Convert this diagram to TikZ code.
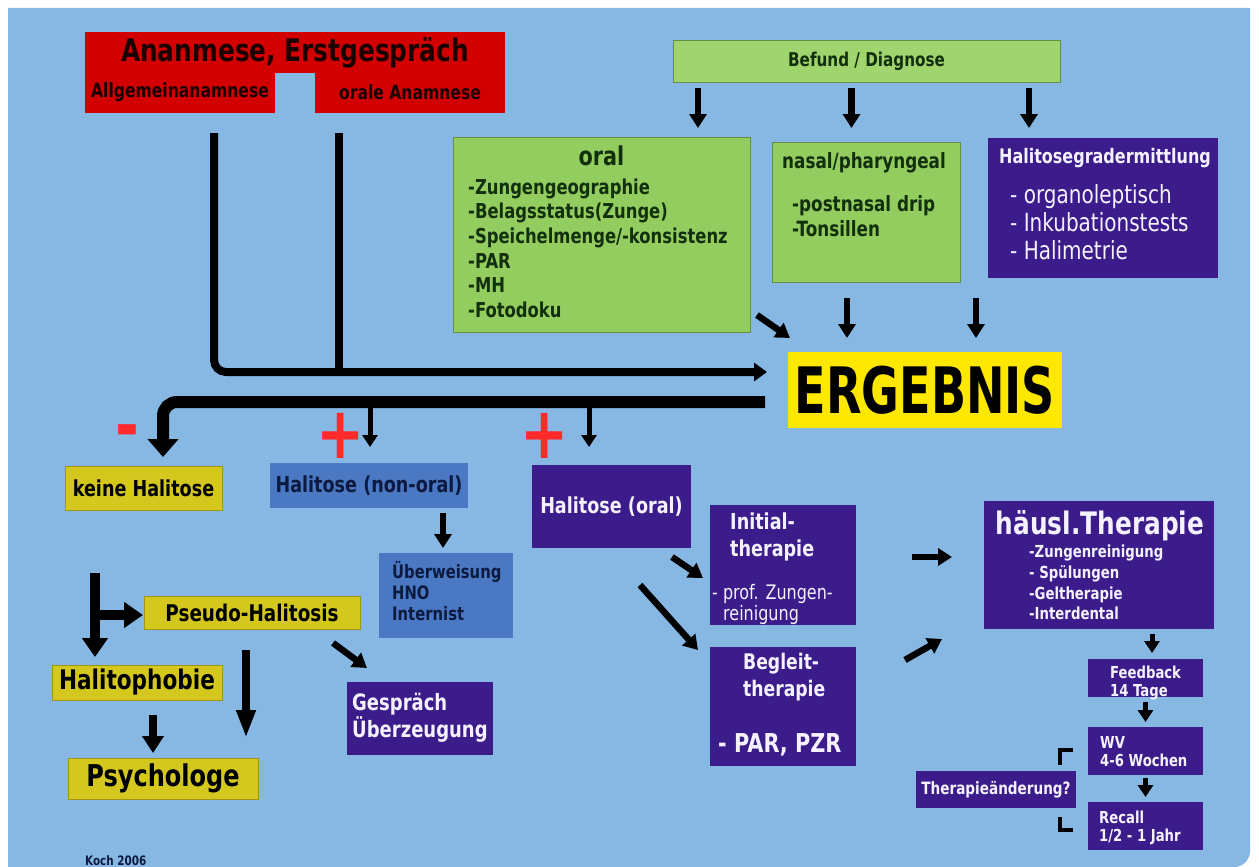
\documentclass[tikz,border=0pt]{standalone}
\usepackage{fontspec}
\setmainfont{DejaVu Sans}[FakeStretch=0.8]
\usetikzlibrary{arrows.meta,calc}
\definecolor{bg}{HTML}{87B8E3}
\definecolor{rd}{HTML}{D20000}
\definecolor{rdtxt}{HTML}{1A0000}
\definecolor{gr}{HTML}{93CC5F}
\definecolor{grl}{HTML}{A0D46E}
\definecolor{grtxt}{HTML}{12300E}
\definecolor{pu}{HTML}{3B1C8A}
\definecolor{wt}{HTML}{F5F2FF}
\definecolor{ye}{HTML}{D4C81E}
\definecolor{erg}{HTML}{FFE800}
\definecolor{mb}{HTML}{4B78C3}
\definecolor{bltxt}{HTML}{0B1A3E}
\definecolor{sig}{HTML}{FF2A2A}

\begin{document}
\begin{tikzpicture}[
        x=1pt, y=-1pt,
        box/.style={rectangle, inner sep=0pt, outer sep=0pt},
        redbox/.style={box, fill=rd, text=rdtxt},
        grbox/.style={box, fill=gr, draw=gr!70!black, line width=0.8pt},
        pubox/.style={box, fill=pu, text=wt},
        yebox/.style={box, fill=ye, draw=ye!75!black, line width=0.6pt, text=black},
        blbox/.style={box, fill=mb, text=bltxt},
        arr/.style={line width=5pt, -{Triangle[width=15pt,length=12pt]}},
        marr/.style={line width=6.5pt, -{Triangle[width=17pt,length=14pt]}},
        barr/.style={line width=10pt, -{Triangle[width=25pt,length=19pt]}},
        sign/.style={text=sig, font=\fontsize{72}{72}\selectfont\bfseries, inner sep=0pt},
    ]
\useasboundingbox (0,0) rectangle (1259,867);
\fill[white] (0,0) rectangle (1259,867);
\fill[bg] (8,8) -- (1250,8) -- (1250,851) arc[start angle=0, end angle=90, radius=16] -- (8,867) -- cycle;

% Anamnese
\node[redbox, minimum width=420pt, minimum height=41pt, font=\fontsize{31}{31}\selectfont\bfseries] (anam) at (295,52.5) {Ananmese, Erstgespräch};
\node[redbox, minimum width=190pt, minimum height=41pt, font=\fontsize{19.5}{19.5}\selectfont\bfseries] (allg) at (180,92.5) {Allgemeinanamnese};
\node[redbox, minimum width=190pt, minimum height=41pt, font=\fontsize{19.5}{19.5}\selectfont\bfseries] (oralan) at (410,92.5) {orale Anamnese};

% Befund
\node[box, fill=grl, draw=gr!70!black, line width=0.8pt, minimum width=387pt, minimum height=42pt, text=grtxt, font=\fontsize{19}{19}\selectfont\bfseries] (befund) at (866.5,61) {Befund / Diagnose};

\node[grbox, minimum width=297pt, minimum height=195pt] (oral) at (601.5,234.5) {};
\node[anchor=base, text=grtxt, font=\fontsize{26}{26}\selectfont\bfseries] (oralt) at ($(oral.north)+(0,28)$) {oral};
\node[anchor=north west, align=left, inner sep=0pt, text=grtxt, font=\fontsize{20.5}{24.6}\selectfont\bfseries] (oralx) at ($(oral.north west)+(15,41.5)$)
    {-Zungengeographie\\-Belagsstatus(Zunge)\\-Speichelmenge/-konsistenz\\-PAR\\-MH\\-Fotodoku};

\node[grbox, minimum width=188pt, minimum height=140pt] (nasal) at (866,212) {};
\node[anchor=base, text=grtxt, font=\fontsize{21}{21}\selectfont\bfseries] (nasalt) at ($(nasal.north)+(-2,26)$) {nasal/pharyngeal};
\node[anchor=north west, align=left, inner sep=0pt, text=grtxt, font=\fontsize{21}{25}\selectfont\bfseries] (nasalx) at ($(nasal.north west)+(20,53)$)
    {-postnasal drip\\-Tonsillen};

\node[pubox, minimum width=230pt, minimum height=140pt] (halgrad) at (1103,208) {};
\node[anchor=base, text=wt, font=\fontsize{20}{20}\selectfont\bfseries] (halgradt) at ($(halgrad.north)+(2,25)$) {Halitosegradermittlung};
\node[anchor=north west, align=left, inner sep=0pt, text=wt, font=\fontsize{25}{28}\selectfont] (halgradx) at ($(halgrad.north west)+(22,46)$)
    {- organoleptisch\\- Inkubationstests\\- Halimetrie};

% Ergebnis
\node[box, fill=erg, minimum width=274pt, minimum height=76pt, font=\fontsize{64}{64}\selectfont\bfseries] (ergebnis) at (925,390) {\scalebox{0.9}[1]{ERGEBNIS}};

\draw[marr] ($(befund.south west)+(25,6)$) -- ++(0,40);
\draw[marr] ($(befund.south)+(-15,6)$) -- ++(0,40);
\draw[marr] ($(befund.south east)+(-31,6)$) -- ++(0,40);
\draw[marr] ($(oral.south east)+(7,-17)$) -- ($(ergebnis.north west)+(2,-14)$);
\draw[marr] ($(nasal.south)+(-19,16)$) -- ++(0,40);
\draw[marr] ($(halgrad.south)+(-127,20)$) -- ++(0,40);

% Sammelleitungen
\draw[line width=8pt, rounded corners=12pt, -{Triangle[width=18pt,length=13pt]}] ($(allg.south)+(34,20)$) |- ($(ergebnis.west)+(-21,-18)$);
\draw[line width=8pt] ($(oralan.south west)+(24,20)$) -- ++(0,238);
\draw[line width=12pt, rounded corners=14pt, -{Triangle[width=30pt,length=18pt]}] ($(ergebnis.west)+(-23,12)$) -| ($(allg.south west)+(78,344)$);

% Befundklassen
\node[yebox, minimum width=157pt, minimum height=44pt, font=\fontsize{22}{22}\selectfont\bfseries] (keine) at (143.5,488) {keine Halitose};
\node[blbox, minimum width=198pt, minimum height=45pt, font=\fontsize{22}{22}\selectfont\bfseries] (nonoral) at (369,485.5) {Halitose (non-oral)};
\node[pubox, minimum width=159pt, minimum height=83pt, font=\fontsize{22}{22}\selectfont\bfseries] (haloral) at (611.5,506.5) {Halitose (oral)};

\node[sign] (minus) at (127,438) {-};
\node[sign] (plus1) at (341,436) {+};
\node[sign] (plus2) at (545,436) {+};
\draw[arr] ($(nonoral.north)+(1,-61)$) -- ++(0,45);
\draw[arr] ($(haloral.north)+(-22.5,-63)$) -- ++(0,45);

% non-oral
\node[blbox, minimum width=134pt, minimum height=85pt] (ueberw) at (446,595.5) {};
\node[anchor=north west, align=left, inner sep=0pt, text=bltxt, font=\fontsize{18.5}{21}\selectfont\bfseries] (ueberwx) at ($(ueberw.north west)+(13,8)$)
    {Überweisung\\HNO\\Internist};
\draw[marr] ($(nonoral.south)+(74,5)$) -- ($(ueberw.north)+(-3,-5)$);

% keine Halitose
\node[yebox, minimum width=216pt, minimum height=33pt, font=\fontsize{23}{23}\selectfont\bfseries] (pseudo) at (252,612.5) {Pseudo-Halitosis};
\node[yebox, minimum width=170pt, minimum height=35pt, font=\fontsize{27}{27}\selectfont\bfseries] (phobie) at (137,682.5) {Halitophobie};
\node[yebox, minimum width=190pt, minimum height=41pt, font=\fontsize{30}{30}\selectfont\bfseries] (psycho) at (163,778.5) {Psychologe};
\node[pubox, minimum width=146pt, minimum height=73pt] (gespraech) at (420,718.5) {};
\node[anchor=north west, align=left, inner sep=0pt, text=wt, font=\fontsize{22.5}{26.5}\selectfont\bfseries] (gespraechx) at ($(gespraech.north west)+(5,11)$)
    {Gespräch\\Überzeugung};

\draw[barr] ($(phobie.north west)+(43,-92)$) -- ($(phobie.north west)+(43,-8)$);
\draw[barr] ($(pseudo.west)+(-49,2.5)$) -- ($(pseudo.west)+(-1,2.5)$);
\draw[line width=8pt, -{Triangle[width=21pt,length=17pt]}] ($(phobie.south)+(16,15)$) -- ($(psycho.north)+(-10,-5)$);
\draw[line width=8pt, -{Triangle[width=18pt,length=28pt]}] ($(pseudo.south)+(-6,21)$) -- ++(0,88);
\draw[marr] ($(pseudo.south east)+(-27,14)$) -- ($(gespraech.north west)+(20,-14)$);

% Therapie
\node[pubox, minimum width=146pt, minimum height=120pt] (initial) at (783,565) {};
\node[anchor=north west, align=left, inner sep=0pt, text=wt, font=\fontsize{22}{27}\selectfont\bfseries] (initialt) at ($(initial.north west)+(20,8)$)
    {Initial-\\therapie};
\node[anchor=north west, align=left, inner sep=0pt, text=wt, font=\fontsize{20}{21}\selectfont] (initialx) at ($(initial.north west)+(2,79)$)
    {- prof. Zungen-\\\hspace*{11pt}reinigung};

\node[pubox, minimum width=146pt, minimum height=119pt] (begleit) at (783,706.5) {};
\node[anchor=north west, align=left, inner sep=0pt, text=wt, font=\fontsize{21.5}{26.5}\selectfont\bfseries] (begleitt) at ($(begleit.north west)+(33,6)$)
    {Begleit-\\therapie};
\node[anchor=base west, inner sep=0pt, text=wt, font=\fontsize{26}{26}\selectfont\bfseries] (begleitx) at ($(begleit.north west)+(8,105.5)$) {- PAR, PZR};

\draw[marr] ($(haloral.south east)+(-19,9)$) -- ($(initial.west)+(-7,13)$);
\draw[marr] ($(haloral.south east)+(-51,37)$) -- ($(begleit.north west)+(-12,3)$);

\node[pubox, minimum width=230pt, minimum height=128pt] (haeusl) at (1099,565) {};
\node[anchor=base, text=wt, font=\fontsize{31}{31}\selectfont\bfseries] (haeuslt) at ($(haeusl.north)+(1,33)$) {häusl.Therapie};
\node[anchor=north west, align=left, inner sep=0pt, text=wt, font=\fontsize{16.6}{20.7}\selectfont\bfseries] (haeuslx) at ($(haeusl.north west)+(45,44)$)
    {-Zungenreinigung\\- Spülungen\\-Geltherapie\\-Interdental};

\draw[marr] ($(initial.east)+(56,-8)$) -- ($(haeusl.west)+(-32,-8)$);
\draw[marr] ($(begleit.north east)+(49,13)$) -- ($(haeusl.south west)+(-42,10)$);

% Nachsorge
\node[pubox, minimum width=115pt, minimum height=38pt] (feedback) at (1145.5,678) {};
\node[anchor=north west, align=left, inner sep=0pt, text=wt, font=\fontsize{16.5}{18}\selectfont\bfseries] (feedbackx) at ($(feedback.north west)+(22,6.5)$)
    {Feedback\\14 Tage};
\node[pubox, minimum width=115pt, minimum height=48pt] (wv) at (1145.5,751) {};
\node[anchor=north west, align=left, inner sep=0pt, text=wt, font=\fontsize{16.5}{18}\selectfont\bfseries] (wvx) at ($(wv.north west)+(12,9)$)
    {WV\\4-6 Wochen};
\node[pubox, minimum width=115pt, minimum height=48pt] (recall) at (1145.5,826) {};
\node[anchor=north west, align=left, inner sep=0pt, text=wt, font=\fontsize{16.5}{18}\selectfont\bfseries] (recallx) at ($(recall.north west)+(11,8.5)$)
    {Recall\\1/2 - 1 Jahr};
\node[pubox, minimum width=160pt, minimum height=37pt, font=\fontsize{17}{17}\selectfont\bfseries] (aenderung) at (996,789.5) {Therapieänderung?};

\draw[arr] ($(haeusl.south)+(53,5)$) -- ($(feedback.north)+(6.5,-6)$);
\draw[arr] ($(feedback.south)+(0,5)$) -- ($(wv.north)+(0,-5)$);
\draw[arr] ($(wv.south)+(0,3)$) -- ($(recall.north)+(0,-5)$);
\draw[line width=4pt] ($(aenderung.north east)+(-16,-6)$) |- ($(wv.west)+(-15,-1)$);
\draw[line width=4pt] ($(aenderung.south east)+(-16,9)$) |- ($(recall.west)+(-15,4)$);

\node[anchor=base west, inner sep=0pt, text=bltxt, font=\fontsize{13}{13}\selectfont\bfseries] (koch) at (85,865) {Koch 2006};
\end{tikzpicture}
\end{document}
